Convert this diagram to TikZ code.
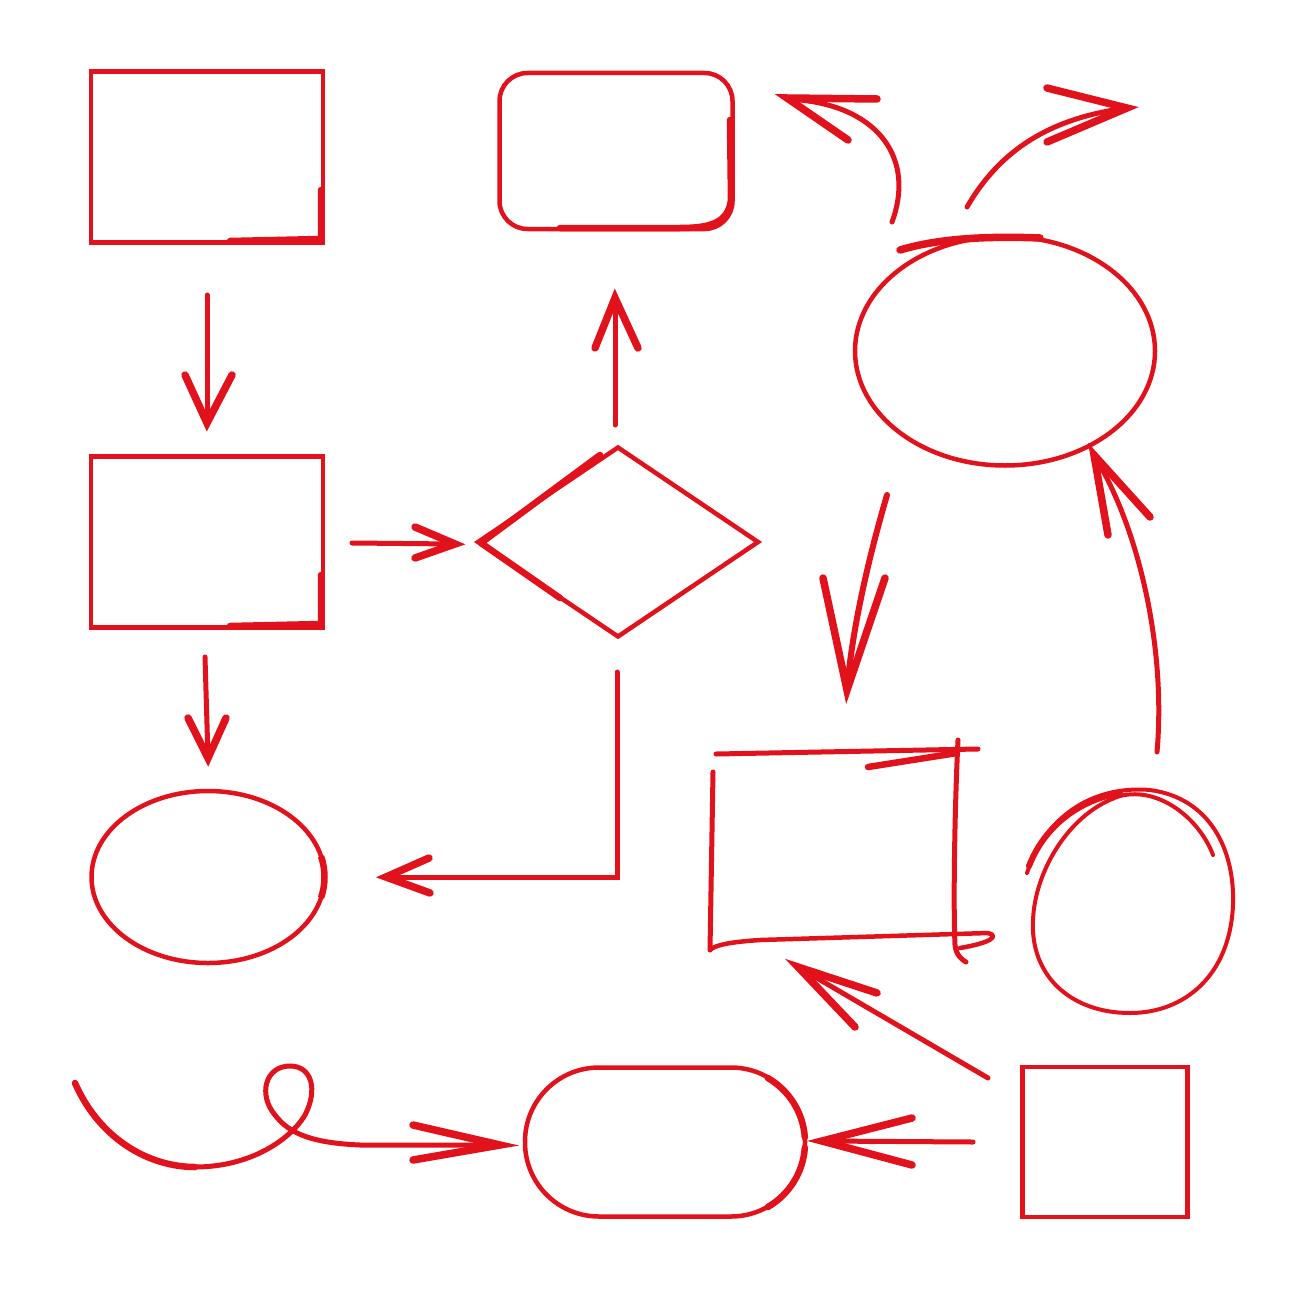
\documentclass[tikz,border=0pt]{standalone}
\usetikzlibrary{shapes.geometric}
\definecolor{pen}{RGB}{226,18,28}
\begin{document}
\begin{tikzpicture}[x=1pt,y=-1pt,
  shp/.style={draw=pen,line width=4.5pt,inner sep=0pt,outer sep=0pt},
  stem/.style={draw=pen,line width=5pt,line cap=round},
  barb/.style={draw=pen,line width=7.5pt,line cap=round,line join=miter},
  sketch/.style={draw=pen,line width=4.5pt,line cap=round,line join=round},
  heavy/.style={draw=pen,line width=6.5pt,line cap=round}]
\useasboundingbox (0,0) rectangle (1300,1300);
\fill[white] (0,0) rectangle (1300,1300);

% ---------- shapes ----------
\node[shp,rectangle,minimum width=232pt,minimum height=171pt] (A) at (207,157) {};
\node[shp,rectangle,rounded corners=28pt,minimum width=233pt,minimum height=156pt] (B) at (616,151) {};
\node[shp,rectangle,minimum width=232pt,minimum height=171pt] (C) at (207,542) {};
\node[shp,diamond,minimum width=280pt,minimum height=189pt] (D) at (618,542) {};
\node[shp,ellipse,minimum width=233pt,minimum height=172pt] (E) at (208,877) {};
\node[shp,ellipse,minimum width=300pt,minimum height=229pt] (F) at (1005,351) {};
\node[shp,rectangle,minimum width=165pt,minimum height=150pt] (I) at (1105,1142) {};
\node[shp,rectangle,rounded corners=74pt,minimum width=280pt,minimum height=149pt] (J) at (665,1142) {};
\coordinate (G) at (835,850);
\coordinate (H) at (1133,900);

% hand-drawn thickenings
\draw[heavy] (321,190) -- (321,239) -- (230,241);
\draw[heavy] (321,575) -- (321,624) -- (230,626);
\draw[heavy] (730,120) -- (731,200) .. controls (728,222) and (712,228) .. (680,228) -- (560,228);
\draw[heavy] (481,543) -- (600,455);
\draw[heavy] (481,543) -- (560,598);
\draw[draw=pen,line width=6.5pt] (208,877) ++(-14:116.5 and 86) arc[start angle=-14,end angle=14,x radius=116.5,y radius=86];
\draw[draw=pen,line width=7.5pt,line cap=round] (900,250) .. controls (940,238) and (990,236) .. (1040,238);
\draw[heavy] (730.5,1142.5) ++(-60:74.5) arc[start angle=-60,end angle=-4,radius=74.5];
\draw[heavy] (730.5,1142.5) ++(4:74.5) arc[start angle=4,end angle=60,radius=74.5];

% sketchy rectangle G
\draw[sketch,line width=5pt] (716,754) -- (978,749);
\draw[sketch,line width=6.5pt] (868,767) -- (957,753);
\draw[sketch,line width=5pt] (958,740) .. controls (955,800) and (953,900) .. (955,945) .. controls (956,955) and (962,960) .. (966,962);
\draw[sketch,line width=5pt] (713,772) -- (710,950);
\draw[sketch] (710,950) .. controls (715,945) and (730,942) .. (760,940) -- (988,933) .. controls (1000,936) and (990,943) .. (960,948);

% egg H
\draw[sketch,line width=4pt] (1027,873) .. controls (1050,805) and (1105,786) .. (1150,790) .. controls (1210,798) and (1235,850) .. (1233,905) .. controls (1230,975) and (1185,1013) .. (1130,1013) .. controls (1070,1013) and (1030,975) .. (1033,920) .. controls (1035,870) and (1070,812) .. (1120,796) .. controls (1160,786) and (1200,820) .. (1213,855);
\draw[sketch,line width=6pt] (1029,866) .. controls (1045,825) and (1080,800) .. (1120,793);

% ---------- connectors ----------
% A -> C
\coordinate (a1s) at (207,295); \coordinate (a1e) at (207,423);
\draw[stem] (a1s) -- (a1e);
\draw[barb] (a1e) ++(-22,-48) -- (a1e) -- ++(25,-48);
% C -> D
\coordinate (a2s) at (352,543); \coordinate (a2e) at (455,544);
\draw[stem] (a2s) -- (a2e);
\draw[barb] (a2e) ++(-40,-17) -- (a2e) -- ++(-40,14);
% D -> B
\coordinate (a3s) at (615,425); \coordinate (a3e) at (615,298);
\draw[stem] (a3s) -- (a3e);
\draw[barb] (a3e) ++(-20,50) -- (a3e) -- ++(23,50);
% C -> E
\coordinate (a4s) at (205,657); \coordinate (a4e) at (208,758);
\draw[stem] (a4s) -- (a4e);
\draw[barb] (a4e) ++(-20,-40) -- (a4e) -- ++(18,-40);
% D -> E (elbow)
\coordinate (a5s) at (617,672); \coordinate (a5c) at (617,877); \coordinate (a5e) at (386,877);
\draw[stem,line join=miter] (a5s) -- (a5c) -- (a5e);
\draw[barb] (a5e) ++(43,-19) -- (a5e) -- ++(44,16);
% F -> upper left
\coordinate (a6s) at (892,222); \coordinate (a6e) at (787,98);
\draw[stem] (a6s) .. controls (915,160) and (880,108) .. (800,100) -- (a6e);
\draw[barb] (a6e) ++(90,1) -- (a6e) -- ++(61,42);
% F -> upper right
\coordinate (a7s) at (967,207); \coordinate (a7e) at (1127,108);
\draw[stem] (a7s) .. controls (1000,150) and (1050,118) .. (a7e);
\draw[barb] (a7e) ++(-80,-20) -- (a7e) -- ++(-80,34);
% F -> G
\coordinate (a8s) at (887,495); \coordinate (a8e) at (847,690);
\draw[stem,line width=6pt] (a8s) .. controls (868,560) and (852,630) .. (a8e);
\draw[barb] (a8e) ++(-24,-112) -- (a8e) -- ++(38,-112);
% H -> F
\coordinate (a9s) at (1157,752); \coordinate (a9e) at (1094,455);
\draw[stem] (a9s) .. controls (1166,650) and (1140,530) .. (a9e);
\draw[barb] (a9e) ++(14,80) -- (a9e) -- ++(56,62);
% I -> G
\coordinate (a10s) at (988,1078); \coordinate (a10e) at (798,967);
\draw[stem] (a10s) -- (a10e);
\draw[barb] (a10e) ++(79,26) -- (a10e) -- ++(57,60);
% I -> J
\coordinate (a11s) at (973,1142); \coordinate (a11e) at (822,1141);
\draw[stem] (a11s) -- (a11e);
\draw[barb] (a11e) ++(90,-23) -- (a11e) -- ++(90,24);
% loop -> J
\coordinate (a12s) at (75,1083); \coordinate (a12e) at (500,1145);
\draw[stem,line width=6.5pt] (a12s) .. controls (100,1140) and (150,1167) .. (195,1167);
\draw[stem] (195,1167) .. controls (250,1167) and (290,1140) .. (305,1115) .. controls (318,1090) and (312,1066) .. (290,1066) .. controls (265,1066) and (258,1095) .. (275,1115) .. controls (290,1135) and (315,1143) .. (360,1145) -- (a12e);
\draw[barb] (a12e) ++(-87,-20) -- (a12e) -- ++(-87,15);
\end{tikzpicture}
\end{document}
